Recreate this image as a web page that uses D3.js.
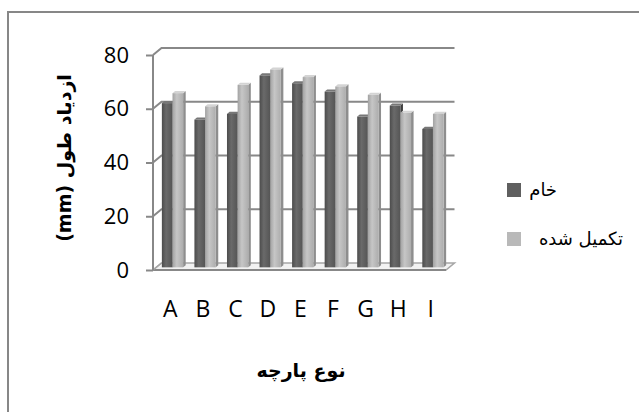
<!DOCTYPE html>
<html>
<head>
<meta charset="utf-8">
<script src="https://cdn.jsdelivr.net/npm/d3@7/dist/d3.min.js"></script>
<style>
  html, body { margin: 0; padding: 0; background: #fff; }
  svg { display: block; }
</style>
</head>
<body>
<svg id="chart" width="639" height="412"></svg>
<script>
// Fabric types and elongation per series
const categories = ["A", "B", "C", "D", "E", "F", "G", "H", "I"];
const seriesNames = ["خام", "تکمیل شده"];
const rawValues = [61.1, 55.0, 57.1, 71.4, 68.5, 65.4, 56.1, 60.2, 51.5];
const finishedValues = [64.8, 59.9, 67.9, 73.6, 70.8, 67.3, 64.2, 57.5, 57.1];
const yTicks = [0, 20, 40, 60, 80];
const yTitle = "ازدیاد طول (mm)";
const xTitle = "نوع پارچه";

const svg = d3.select("#chart");

// outer frame (right and bottom edges fall outside the page)
svg.append("rect")
  .attr("x", 8).attr("y", 12).attr("width", 700).attr("height", 500)
  .attr("fill", "#fff").attr("stroke", "#878787").attr("stroke-width", 2);

// oblique 3D projection: depth 0 = front plane, depth 1 = back wall
const DX = 8.5, DY = -7;
const x = d3.scaleBand().domain(categories).range([153, 446]).paddingInner(0).paddingOuter(0);
const y = d3.scaleLinear().domain([0, 80]).range([270, 55]);
const proj = (px, py, d) => [px + DX * d, py + DY * d];

const defs = svg.append("defs");
function grad(id, stops) {
  const g = defs.append("linearGradient").attr("id", id)
    .attr("x1", "0%").attr("x2", "100%").attr("y1", "0%").attr("y2", "0%");
  stops.forEach(([o, c]) => g.append("stop").attr("offset", o).attr("stop-color", c));
}
grad("gDark", [["0%", "#4c4c4c"], ["40%", "#6a6a6a"], ["100%", "#555"]]);
grad("gLight", [["0%", "#a2a2a2"], ["40%", "#c6c6c6"], ["100%", "#adadad"]]);

const gridColor = "#888";
const walls = svg.append("g");

// floor
const [x0, x1] = x.range();
const floorPts = [proj(x0, y(0), 0), proj(x1, y(0), 0), proj(x1, y(0), 1), proj(x0, y(0), 1)];
walls.append("polygon")
  .attr("points", floorPts.map(p => p.join(",")).join(" "))
  .attr("fill", "#f2f2f2").attr("stroke", "#a6a6a6").attr("stroke-width", 1.5);

// back-wall gridlines with their side-wall slants
yTicks.forEach(t => {
  const a = proj(x0, y(t), 0), b = proj(x0, y(t), 1), c = proj(x1, y(t), 1);
  if (t === 0) return;
  walls.append("polyline")
    .attr("points", [a, b, c].map(p => p.join(",")).join(" "))
    .attr("fill", "none").attr("stroke", gridColor).attr("stroke-width", 2);
});
// floor front edge and its side slant
walls.append("line")
  .attr("x1", x0).attr("x2", x1).attr("y1", y(0)).attr("y2", y(0))
  .attr("stroke", gridColor).attr("stroke-width", 2);
walls.append("line")
  .attr("x1", x0).attr("y1", y(0)).attr("x2", proj(x0, y(0), 1)[0]).attr("y2", proj(x0, y(0), 1)[1])
  .attr("stroke", "#a6a6a6").attr("stroke-width", 1.5);

// value axis on the front plane
const yAxis = d3.axisLeft(y).tickValues(yTicks).tickSize(7).tickPadding(17);
const gy = svg.append("g").attr("transform", `translate(${x0},0)`).call(yAxis);
gy.select(".domain").attr("stroke", gridColor).attr("stroke-width", 2)
  .attr("d", `M0,${y(0)}V${y(80)}`);
gy.selectAll(".tick line").attr("stroke", gridColor).attr("stroke-width", 2);
gy.selectAll(".tick text")
  .attr("font-family", "'Open Sans', sans-serif").attr("font-size", 22).attr("fill", "#000");

// category axis labels
const xAxis = d3.axisBottom(x).tickSize(0).tickPadding(0);
const gx = svg.append("g").attr("transform", "translate(1,301)").call(xAxis);
gx.select(".domain").remove();
gx.selectAll(".tick text")
  .attr("font-family", "'Open Sans', sans-serif").attr("font-size", 23).attr("fill", "#000");

// 3D columns
const xs = d3.scaleBand().domain([0, 1]).range([0, x.bandwidth()]).paddingInner(0).paddingOuter(0.53);
const D0 = 0.38, D1 = 0.68;
const series = [
  { values: rawValues, fill: "url(#gDark)", side: "#3e3e3e", top: "#777" },
  { values: finishedValues, fill: "url(#gLight)", side: "#8e8e8e", top: "#d4d4d4" }
];
const bars = svg.append("g");
categories.forEach((cat, i) => {
  series.forEach((s, k) => {
    const v = s.values[i];
    const left = x(cat) + xs(k), right = left + xs.bandwidth();
    const [fl, ft] = proj(left, y(v), D0);
    const [fr, fb] = proj(right, y(0), D0);
    const ddx = DX * (D1 - D0), ddy = DY * (D1 - D0);
    // right side face
    bars.append("polygon")
      .attr("points", [[fr, ft], [fr + ddx, ft + ddy], [fr + ddx, fb + ddy], [fr, fb]].map(p => p.join(",")).join(" "))
      .attr("fill", s.side);
    // top face
    bars.append("polygon")
      .attr("points", [[fl, ft], [fr, ft], [fr + ddx, ft + ddy], [fl + ddx, ft + ddy]].map(p => p.join(",")).join(" "))
      .attr("fill", s.top);
    // front face
    bars.append("rect")
      .attr("x", fl).attr("y", ft).attr("width", fr - fl).attr("height", fb - ft)
      .attr("fill", s.fill);
  });
});

// axis titles
svg.append("text")
  .attr("transform", "translate(71,158) rotate(-90)")
  .attr("text-anchor", "middle").attr("direction", "rtl")
  .attr("font-family", "'DejaVu Sans', sans-serif").attr("font-weight", "bold").attr("font-size", 19)
  .text(yTitle);
svg.append("text")
  .attr("x", 301).attr("y", 377).attr("text-anchor", "middle")
  .attr("font-family", "'DejaVu Sans', sans-serif").attr("font-weight", "bold").attr("font-size", 19)
  .text(xTitle);

// legend
const legend = svg.append("g");
const legendFills = ["#5f5f5f", "#b9b9b9"];
const legendRows = [{ y: 183, textX: 557 }, { y: 232, textX: 623 }];
seriesNames.forEach((name, k) => {
  legend.append("rect")
    .attr("x", 507).attr("y", legendRows[k].y).attr("width", 14).attr("height", 14)
    .attr("fill", legendFills[k]);
  legend.append("text")
    .attr("x", legendRows[k].textX).attr("y", legendRows[k].y + 13)
    .attr("text-anchor", "end")
    .attr("font-family", "'DejaVu Sans', sans-serif").attr("font-size", 18)
    .text(name);
});
</script>
</body>
</html>
